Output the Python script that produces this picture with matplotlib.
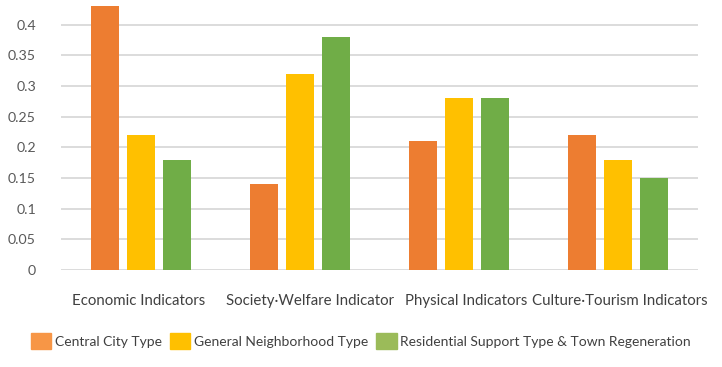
import matplotlib
matplotlib.use('Agg')
import matplotlib.pyplot as plt
import matplotlib.transforms as mtransforms
import numpy as np

plt.rcParams['font.family'] = ['Lato', 'DejaVu Sans']

categories = ['Economic Indicators', 'Society\u00b7Welfare Indicator',
              'Physical Indicators', 'Culture\u00b7Tourism Indicators']
series_names = ['Central City Type', 'General Neighborhood Type',
                'Residential Support Type & Town Regeneration']
central_city = [0.43, 0.14, 0.21, 0.22]
general_neighborhood = [0.22, 0.32, 0.28, 0.18]
residential_support = [0.18, 0.38, 0.28, 0.15]
yticks = [0, 0.05, 0.1, 0.15, 0.2, 0.25, 0.3, 0.35, 0.4]
ytick_labels = ['0', '0.05', '0.1', '0.15', '0.2', '0.25', '0.3', '0.35', '0.4']

bar_colors = ['#ED7D31', '#FFC000', '#70AD47']
legend_colors = ['#F79646', '#FFC000', '#9BBB59']

fig = plt.figure(figsize=(7.22, 3.67), dpi=100)
ax = fig.add_axes([61 / 722, 97 / 367, 637 / 722, 270 / 367])

x = np.arange(len(categories))
width = 0.175
step = 0.226
series = [central_city, general_neighborhood, residential_support]
for i, vals in enumerate(series):
    ax.bar(x + (i - 1) * step, vals, width, color=bar_colors[i], zorder=3)

ax.set_xlim(-0.5, len(categories) - 0.5)
ax.set_ylim(0, 0.44)
ax.set_yticks(yticks)
ax.set_yticklabels(ytick_labels, fontsize=10.2, color='#595959')
ax.set_xticks(x)
ax.set_xticklabels(categories, fontsize=10.8, color='#404040')
ax.tick_params(axis='y', length=0, pad=18)
ax.tick_params(axis='x', length=0, pad=17)
ax.yaxis.grid(True, color='#D9D9D9', linewidth=1.3, zorder=0)
for s in ax.spines.values():
    s.set_visible(False)

# the original labels sit a little off the group centres
shifts = [-2, 10, 7, 1]
for lab, dx in zip(ax.get_xticklabels(), shifts):
    lab.set_transform(lab.get_transform() +
                      mtransforms.ScaledTranslation(dx / 100, 0, fig.dpi_scale_trans))

handles = [plt.Rectangle((0, 0), 1, 1, color=c) for c in legend_colors]
fig.legend(handles, series_names, loc='center', ncol=3, frameon=False,
           bbox_to_anchor=(0.5, 1 - 341 / 367), fontsize=10,
           handlelength=1.45, handleheight=1.35, handletextpad=0.25,
           columnspacing=0.6, labelcolor='#404040')

fig.savefig('out.png', dpi=100)
